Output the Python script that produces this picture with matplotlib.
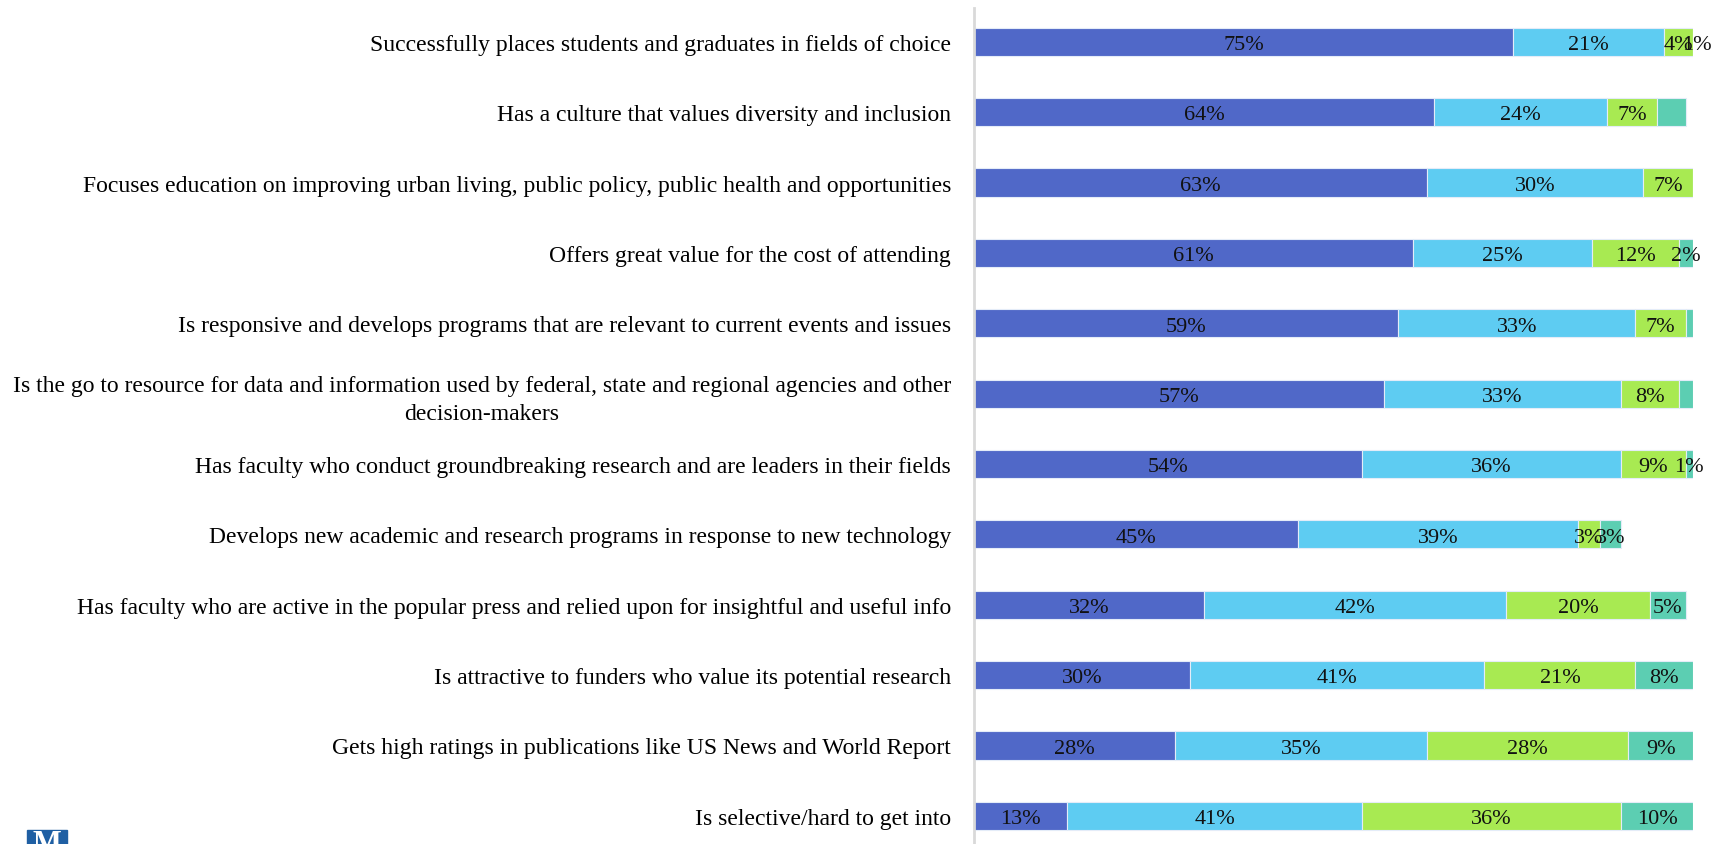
import matplotlib.pyplot as plt
from matplotlib.patches import Rectangle

# categorias (de arriba hacia abajo) y porcentajes por nivel de respuesta
categorias = [
    "Successfully places students and graduates in fields of choice",
    "Has a culture that values diversity and inclusion",
    "Focuses education on improving urban living, public policy, public health and opportunities",
    "Offers great value for the cost of attending",
    "Is responsive and develops programs that are relevant to current events and issues",
    "Is the go to resource for data and information used by federal, state and regional agencies and other\ndecision-makers",
    "Has faculty who conduct groundbreaking research and are leaders in their fields",
    "Develops new academic and research programs in response to new technology",
    "Has faculty who are active in the popular press and relied upon for insightful and useful info",
    "Is attractive to funders who value its potential research",
    "Gets high ratings in publications like US News and World Report",
    "Is selective/hard to get into",
]
muy_importante = [75, 64, 63, 61, 59, 57, 54, 45, 32, 30, 28, 13]
importante = [21, 24, 30, 25, 33, 33, 36, 39, 42, 41, 35, 41]
poco_importante = [4, 7, 7, 12, 7, 8, 9, 3, 20, 21, 28, 36]
nada_importante = [1, 4, 0, 2, 1, 2, 1, 3, 5, 8, 9, 10]
# algunas barras pequeñas no llevan etiqueta
mostrar_nada = [True, False, False, True, False, False, True, True, True, True, True, True]

colores = ["#5068C8", "#5ECCF2", "#A8EA52", "#5CCEB2"]
series = [muy_importante, importante, poco_importante, nada_importante]

plt.rcParams["font.family"] = ["Liberation Serif", "DejaVu Serif"]

fig = plt.figure(figsize=(17.19, 8.45), dpi=100)
ax = fig.add_axes([974 / 1719, 0, (1693 - 974) / 1719, 836 / 845])

y = list(range(len(categorias)))
izquierda = [0] * len(categorias)
for k, (valores, color) in enumerate(zip(series, colores)):
    barras = ax.barh(y, valores, left=izquierda, height=0.40, color=color,
                     edgecolor="#E4ECF8", linewidth=0.8)
    for i, (b, v) in enumerate(zip(barras, valores)):
        if v <= 0:
            continue
        if k == 3 and not mostrar_nada[i]:
            continue
        ax.text(izquierda[i] + v / 2, i + 0.04, f"{v}%", ha="center", va="center",
                fontsize=16, color="#111111")
    izquierda = [a + b for a, b in zip(izquierda, valores)]

ax.set_xlim(0, 100)
ax.set_ylim(11.40, -0.48)
ax.set_yticks(y)
ax.set_yticklabels(categorias, fontsize=17, multialignment="center",
                   linespacing=1.45)
ax.tick_params(axis="y", length=0, pad=16.5)
ax.set_xticks([])
for lado in ["top", "right", "bottom"]:
    ax.spines[lado].set_visible(False)
ax.spines["left"].set_color("#D9D9D9")
ax.spines["left"].set_linewidth(2)

# logo recortado en la esquina inferior izquierda
fig.patches.append(Rectangle((27 / 1719, 0), 40 / 1719, 14 / 845,
                             transform=fig.transFigure, color="#1F5FA3"))
fig.text(47 / 1719, -14 / 845, "M", color="white", fontsize=22,
         fontweight="bold", ha="center", va="bottom")

fig.savefig("out.png", dpi=100)
